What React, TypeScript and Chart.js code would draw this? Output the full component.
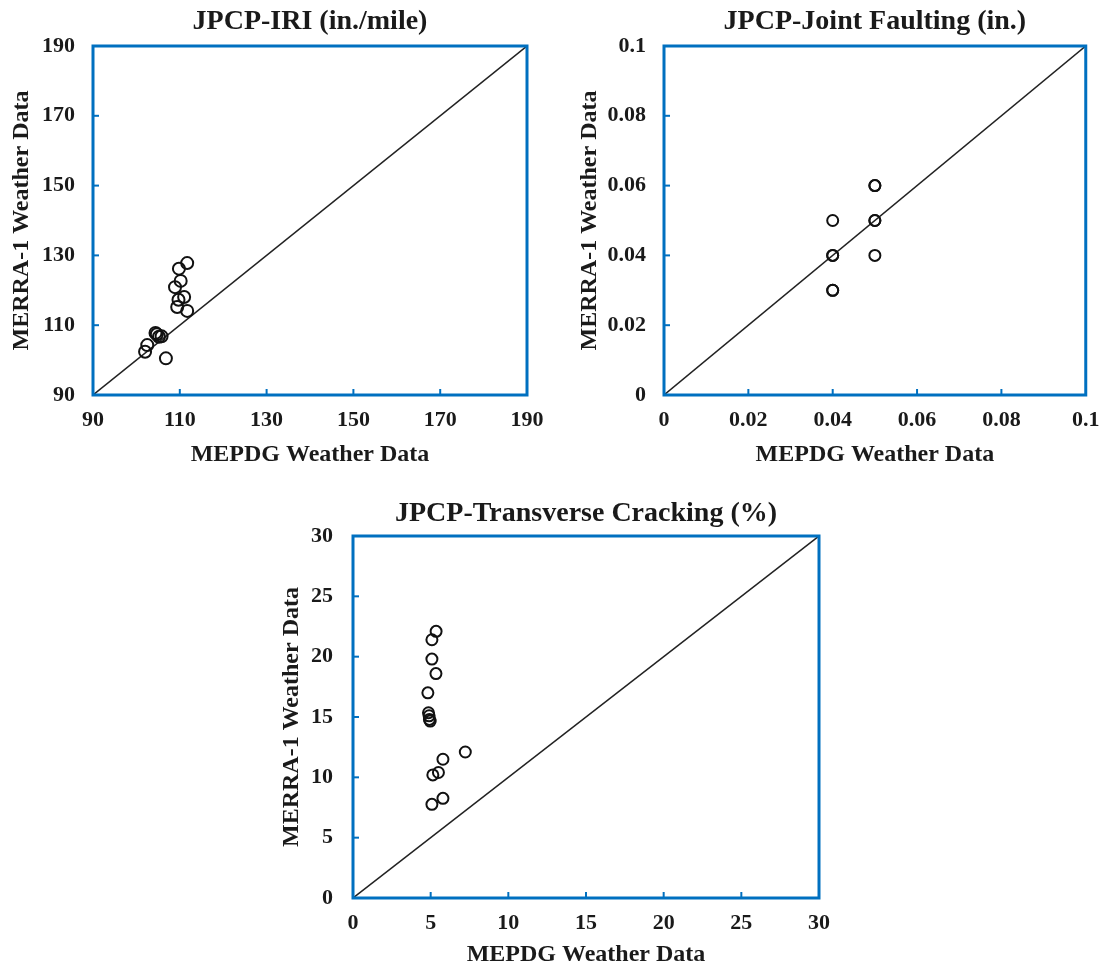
import React, { useEffect, useRef } from "react";
import { Chart, registerables } from "chart.js";

Chart.register(...registerables);

// ---- Data ----
const iriMepdg = [111.7, 109.8, 110.2, 108.9, 111.0, 109.7, 109.4, 111.7, 104.4, 105.2, 104.7, 105.8, 102.5, 102.0, 106.8];
const iriMerra = [127.8, 126.2, 122.7, 120.9, 118.1, 117.3, 115.2, 114.1, 107.8, 106.7, 107.4, 106.8, 104.3, 102.4, 100.5];

const faultMepdg = [0.04, 0.04, 0.04, 0.04, 0.04, 0.05, 0.05, 0.05, 0.05, 0.05];
const faultMerra = [0.05, 0.04, 0.04, 0.03, 0.03, 0.06, 0.06, 0.05, 0.05, 0.04];

const crackMepdg = [5.35, 5.08, 5.08, 5.34, 4.82, 4.86, 4.9, 4.92, 4.97, 7.23, 5.79, 5.5, 5.14, 5.79, 5.08];
const crackMerra = [22.1, 21.4, 19.8, 18.6, 17.0, 15.35, 15.1, 14.8, 14.66, 12.1, 11.5, 10.4, 10.2, 8.26, 7.76];

const iriRange = [90, 190];
const faultRange = [0, 0.1];
const crackRange = [0, 30];

const iriStep = 20;
const faultStep = 0.02;
const crackStep = 5;

const titles = ["JPCP-IRI (in./mile)", "JPCP-Joint Faulting (in.)", "JPCP-Transverse Cracking (%)"];
const xTitle = "MEPDG Weather Data";
const yTitle = "MERRA-1 Weather Data";

const FONT = '"Liberation Serif", "Times New Roman", serif';
const BLUE = "#0070C0";
const TEXT = "#1a1a1a";

const framePlugin = {
  id: "frame",
  afterDatasetsDraw(chart: any) {
    const { ctx, chartArea } = chart;
    const xs = chart.scales.x;
    const ys = chart.scales.y;
    ctx.save();
    ctx.strokeStyle = BLUE;
    ctx.lineWidth = 2;
    const len = 6;
    xs.ticks.forEach((t: any, i: number) => {
      if (i === 0 || i === xs.ticks.length - 1) return;
      const px = xs.getPixelForValue(t.value);
      ctx.beginPath();
      ctx.moveTo(px, chartArea.bottom);
      ctx.lineTo(px, chartArea.bottom - len);
      ctx.stroke();
    });
    ys.ticks.forEach((t: any, i: number) => {
      if (i === 0 || i === ys.ticks.length - 1) return;
      const py = ys.getPixelForValue(t.value);
      ctx.beginPath();
      ctx.moveTo(chartArea.left, py);
      ctx.lineTo(chartArea.left + len, py);
      ctx.stroke();
    });
    ctx.lineWidth = 3;
    ctx.strokeRect(chartArea.left, chartArea.top, chartArea.right - chartArea.left, chartArea.bottom - chartArea.top);
    ctx.restore();
  },
};

type Cfg = {
  title: string;
  xs: number[];
  ys: number[];
  range: number[];
  step: number;
  width: number;
  height: number;
  yScaleWidth: number;
  xScaleHeight: number;
  padRight: number;
  padBottom: number;
  titlePadTop: number;
  titlePadBottom: number;
  tickPadX: number;
  tickPadY: number;
  yTitlePad: number;
  xTitlePad: number;
  radius: number;
};

function fmt(v: number) {
  return String(Number(v.toFixed(4)));
}

function ScatterPanel(props: { cfg: Cfg; left: number; top: number }) {
  const ref = useRef<HTMLCanvasElement>(null);
  const { cfg } = props;
  useEffect(() => {
    if (!ref.current) return;
    const pts = cfg.xs.map((x, i) => ({ x, y: cfg.ys[i] }));
    const diag = [
      { x: cfg.range[0], y: cfg.range[0] },
      { x: cfg.range[1], y: cfg.range[1] },
    ];
    const tickFont = { family: FONT, size: 22, weight: "bold" as const };
    const titleFont = { family: FONT, size: 24, weight: "bold" as const };
    const chart = new Chart(ref.current, {
      type: "scatter",
      data: {
        datasets: [
          {
            data: diag,
            showLine: true,
            borderColor: "#222",
            borderWidth: 1.5,
            pointRadius: 0,
            order: 2,
          },
          {
            data: pts,
            pointStyle: "circle",
            pointRadius: cfg.radius,
            pointBorderWidth: 2,
            pointBorderColor: "#111",
            pointBackgroundColor: "rgba(255,255,255,0)",
            showLine: false,
            order: 1,
          },
        ],
      },
      options: {
        responsive: false,
        animation: false,
        devicePixelRatio: 1,
        layout: { padding: { left: 0, top: 0, right: cfg.padRight, bottom: cfg.padBottom } },
        plugins: {
          legend: { display: false },
          tooltip: { enabled: false },
          title: {
            display: true,
            text: cfg.title,
            fullSize: false,
            color: TEXT,
            font: { family: FONT, size: 28, weight: "bold", lineHeight: 1.2 },
            padding: { top: cfg.titlePadTop, bottom: cfg.titlePadBottom },
          },
        },
        scales: {
          x: {
            type: "linear",
            min: cfg.range[0],
            max: cfg.range[1],
            grid: { display: false, drawTicks: false },
            border: { display: false },
            ticks: {
              stepSize: cfg.step,
              color: TEXT,
              font: tickFont,
              padding: cfg.tickPadX,
              maxRotation: 0,
              callback: (v: any) => fmt(Number(v)),
            },
            title: {
              display: true,
              text: xTitle,
              color: TEXT,
              font: { ...titleFont, lineHeight: 1.2 },
              padding: { top: 0, bottom: cfg.xTitlePad },
            },
            afterFit: (s: any) => {
              s.height = cfg.xScaleHeight;
            },
          },
          y: {
            type: "linear",
            min: cfg.range[0],
            max: cfg.range[1],
            grid: { display: false, drawTicks: false },
            border: { display: false },
            ticks: {
              stepSize: cfg.step,
              color: TEXT,
              font: tickFont,
              padding: cfg.tickPadY,
              callback: (v: any) => fmt(Number(v)),
            },
            title: {
              display: true,
              text: yTitle,
              color: TEXT,
              font: { ...titleFont, lineHeight: 1.2 },
              padding: { top: cfg.yTitlePad, bottom: 0 },
            },
            afterFit: (s: any) => {
              s.width = cfg.yScaleWidth;
            },
          },
        },
      },
      plugins: [framePlugin],
    });
    return () => chart.destroy();
  }, []);
  return (
    <div style={{ position: "absolute", left: props.left, top: props.top, width: cfg.width, height: cfg.height }}>
      <canvas ref={ref} width={cfg.width} height={cfg.height} style={{ display: "block" }} />
    </div>
  );
}

const cfgIri: Cfg = {
  title: titles[0],
  xs: iriMepdg,
  ys: iriMerra,
  range: iriRange,
  step: iriStep,
  width: 556,
  height: 480,
  yScaleWidth: 93,
  xScaleHeight: 75,
  padRight: 27,
  padBottom: 10,
  titlePadTop: 5,
  titlePadBottom: 7.4,
  tickPadX: 12.5,
  tickPadY: 18,
  yTitlePad: 7.6,
  xTitlePad: 0.6,
  radius: 6,
};

const cfgFault: Cfg = {
  title: titles[1],
  xs: faultMepdg,
  ys: faultMerra,
  range: faultRange,
  step: faultStep,
  width: 556,
  height: 480,
  yScaleWidth: 108,
  xScaleHeight: 75,
  padRight: 19,
  padBottom: 10,
  titlePadTop: 5,
  titlePadBottom: 7.4,
  tickPadX: 12.5,
  tickPadY: 18,
  yTitlePad: 19.6,
  xTitlePad: 0.6,
  radius: 5.5,
};

const cfgCrack: Cfg = {
  title: titles[2],
  xs: crackMepdg,
  ys: crackMerra,
  range: crackRange,
  step: crackStep,
  width: 700,
  height: 492,
  yScaleWidth: 153,
  xScaleHeight: 74,
  padRight: 81,
  padBottom: 0,
  titlePadTop: 17,
  titlePadBottom: 5.4,
  tickPadX: 12,
  tickPadY: 20,
  yTitlePad: 77.6,
  xTitlePad: 2.6,
  radius: 5.5,
};

export default function App() {
  return (
    <div style={{ position: "absolute", left: 0, top: 0, width: 1112, height: 972, background: "#fff" }}>
      <ScatterPanel cfg={cfgIri} left={0} top={0} />
      <ScatterPanel cfg={cfgFault} left={556} top={0} />
      <ScatterPanel cfg={cfgCrack} left={200} top={480} />
    </div>
  );
}
